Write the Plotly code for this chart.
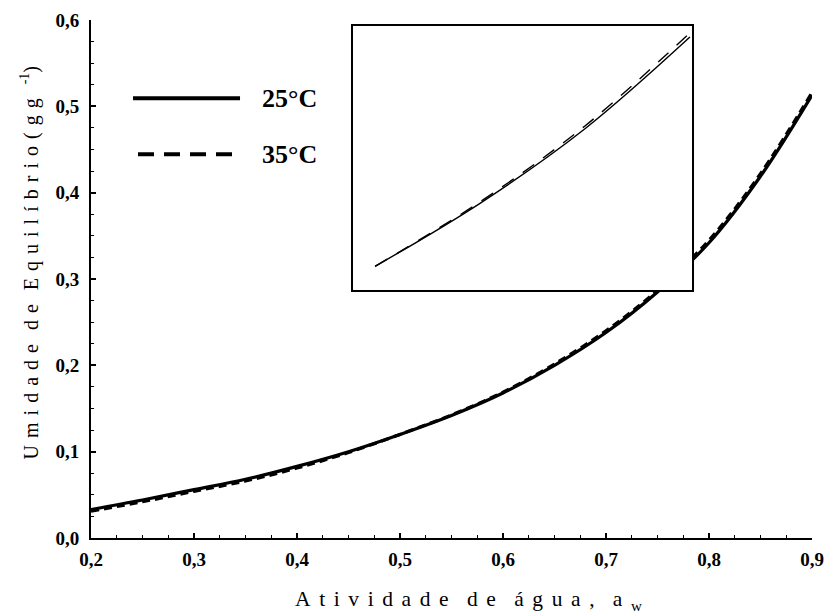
import plotly.graph_objects as go

# ---- data ----
aw = [0.20, 0.25, 0.30, 0.35, 0.40, 0.45, 0.50, 0.55, 0.60, 0.65, 0.70, 0.75, 0.80, 0.85, 0.90]
x_25C = [0.033, 0.044, 0.056, 0.068, 0.083, 0.100, 0.120, 0.142, 0.168, 0.200, 0.238, 0.285, 0.342, 0.419, 0.513]
x_35C = [0.031, 0.042, 0.054, 0.066, 0.081, 0.099, 0.120, 0.1425, 0.169, 0.2015, 0.240, 0.287, 0.345, 0.422, 0.516]
series_names = ["25°C", "35°C"]
x_ticks = [0.2, 0.3, 0.4, 0.5, 0.6, 0.7, 0.8, 0.9]
x_ticktext = ["0,2", "0,3", "0,4", "0,5", "0,6", "0,7", "0,8", "0,9"]
y_ticks = [0.0, 0.1, 0.2, 0.3, 0.4, 0.5, 0.6]
y_ticktext = ["0,0", "0,1", "0,2", "0,3", "0,4", "0,5", "0,6"]
inset_first, inset_last = 6, 10   # inset shows aw = 0.50 .. 0.65

SERIF = "Liberation Serif"


def spaced(words, gap, wgap):
    return wgap.join(gap.join(list(w)) for w in words)


fig = go.Figure()

# main curves
fig.add_trace(go.Scatter(x=aw, y=x_35C, mode="lines", line=dict(color="black", width=3.2, dash="8px,5px", shape="spline"),
                         xaxis="x", yaxis="y", showlegend=False))
fig.add_trace(go.Scatter(x=aw, y=x_25C, mode="lines", line=dict(color="black", width=3.2, shape="spline"),
                         xaxis="x", yaxis="y", showlegend=False))

# inset curves
fig.add_trace(go.Scatter(x=aw[inset_first:inset_last], y=x_25C[inset_first:inset_last], mode="lines",
                         line=dict(color="black", width=1.4, shape="spline"),
                         xaxis="x2", yaxis="y2", showlegend=False))
fig.add_trace(go.Scatter(x=aw[inset_first:inset_last], y=x_35C[inset_first:inset_last], mode="lines",
                         line=dict(color="black", width=1.4, dash="14px,11px", shape="spline"),
                         xaxis="x2", yaxis="y2", showlegend=False))

tickfont = dict(family=SERIF, size=19, color="black", weight="bold")

fig.update_layout(
    width=827, height=616,
    margin=dict(l=91, r=15, t=20, b=78, pad=0, autoexpand=False),
    paper_bgcolor="white", plot_bgcolor="white",
    showlegend=False,
    xaxis=dict(range=[0.2, 0.9], domain=[0, 1], showgrid=False, zeroline=False, automargin=False,
               showline=True, linecolor="black", linewidth=2, ticklabeloverflow="allow",
               tickmode="array", tickvals=x_ticks, ticktext=x_ticktext,
               ticks="inside", ticklen=5, tickwidth=1.5, tickcolor="black",
               minor=dict(ticks="inside", ticklen=3, tickwidth=1.2, tickcolor="black", dtick=0.025, showgrid=False),
               tickfont=tickfont, ticklabelstandoff=3),
    yaxis=dict(range=[0, 0.6], domain=[0, 1], showgrid=False, zeroline=False, automargin=False,
               showline=True, linecolor="black", linewidth=2, ticklabeloverflow="allow",
               tickmode="array", tickvals=y_ticks, ticktext=y_ticktext,
               ticks="inside", ticklen=5, tickwidth=1.5, tickcolor="black",
               minor=dict(ticks="inside", ticklen=3, tickwidth=1.2, tickcolor="black", dtick=0.025, showgrid=False),
               tickfont=tickfont, ticklabelstandoff=6),
    xaxis2=dict(domain=[0.3634, 0.8336], range=[0.4895, 0.651], anchor="y2", automargin=False,
                showgrid=False, zeroline=False, showticklabels=False, ticks="",
                showline=True, mirror=True, linecolor="black", linewidth=2),
    yaxis2=dict(domain=[0.478, 0.988], range=[0.1116, 0.2038], anchor="x2", automargin=False,
                showgrid=False, zeroline=False, showticklabels=False, ticks="",
                showline=True, mirror=True, linecolor="black", linewidth=2),
)

# legend drawn as layout decorations (long sample lines as in the reference)
fig.add_shape(type="line", xref="paper", yref="paper", x0=0.0583, x1=0.2067, y0=0.849, y1=0.849,
              line=dict(color="black", width=4))
fig.add_shape(type="line", xref="paper", yref="paper", x0=0.0652, x1=0.1970, y0=0.741, y1=0.741,
              line=dict(color="black", width=4, dash="16px,10px"))
fig.add_annotation(xref="paper", yref="paper", x=0.2344, y=0.849, xanchor="left", yanchor="middle",
                   text="<b>" + series_names[0] + "</b>", showarrow=False,
                   font=dict(family=SERIF, size=26, color="black"))
fig.add_annotation(xref="paper", yref="paper", x=0.2344, y=0.741, xanchor="left", yanchor="middle",
                   text="<b>" + series_names[1] + "</b>", showarrow=False,
                   font=dict(family=SERIF, size=26, color="black"))

# axis titles (letter-spaced like the reference)
x_title = spaced(["Atividade", "de", "água,", "a"], "\u2009\u2009", "\u2009\u2009\u00a0\u2009") + "\u2009\u2009<sub>w</sub>"
ygap = '<span style="font-size:28px">\u00a0</span>'
y_title = spaced(["Umidade", "de", "Equilíbrio(gg"], ygap, ygap * 2) + ygap * 2 + "<sup>-1</sup>)"
fig.add_annotation(xref="paper", yref="paper", x=0.5236, y=-0.1216, xanchor="center", yanchor="middle",
                   text=x_title, showarrow=False,
                   font=dict(family=SERIF, size=21.5, color="black"))
fig.add_annotation(xref="paper", yref="paper", x=-0.0874, y=0.532, xanchor="center", yanchor="middle",
                   textangle=-90, text=y_title, showarrow=False,
                   font=dict(family=SERIF, size=20, color="black"))

fig.write_html(
    "out.html",
    config={"displayModeBar": False},
    post_script="document.documentElement.style.margin='0';document.body.style.margin='0';"
                "document.documentElement.style.overflow='hidden';document.body.style.overflow='hidden';",
)
